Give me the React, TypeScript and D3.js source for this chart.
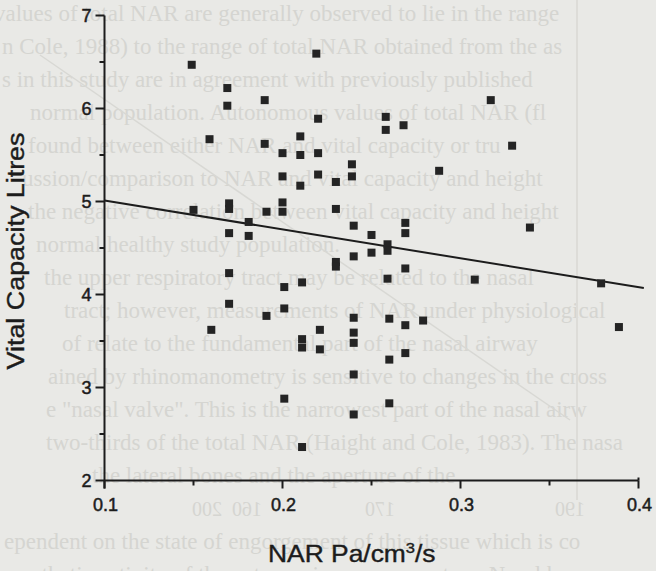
import React from 'react';
import * as d3 from 'd3';

// NAR (Pa/cm3/s) values of each subject
const nar = [
  0.149, 0.219, 0.169, 0.169, 0.190, 0.159, 0.190, 0.200, 0.210, 0.220,
  0.210, 0.220, 0.200, 0.210, 0.220, 0.150, 0.170, 0.170, 0.191, 0.200,
  0.200, 0.181, 0.170, 0.181, 0.258, 0.258, 0.268, 0.317, 0.329, 0.239,
  0.239, 0.230, 0.288, 0.230, 0.240, 0.250, 0.269, 0.269, 0.339, 0.259,
  0.259, 0.250, 0.240, 0.230, 0.230, 0.269, 0.259, 0.308, 0.379, 0.211,
  0.201, 0.170, 0.170, 0.201, 0.191, 0.160, 0.201, 0.240, 0.260, 0.269,
  0.279, 0.389, 0.221, 0.240, 0.240, 0.211, 0.211, 0.221, 0.260, 0.269,
  0.240, 0.260, 0.240, 0.211,
];
// Vital capacity (litres) of each subject
const vitalCapacity = [
  6.47, 6.59, 6.22, 6.03, 6.09, 5.67, 5.62, 5.52, 5.70, 5.89,
  5.50, 5.52, 5.27, 5.17, 5.29, 4.91, 4.98, 4.92, 4.89, 4.99,
  4.89, 4.78, 4.66, 4.63, 5.91, 5.77, 5.82, 6.09, 5.60, 5.40,
  5.27, 5.21, 5.33, 4.92, 4.74, 4.64, 4.77, 4.66, 4.72, 4.54,
  4.47, 4.45, 4.41, 4.35, 4.30, 4.28, 4.17, 4.16, 4.12, 4.13,
  4.08, 4.23, 3.90, 3.85, 3.77, 3.62, 2.88, 3.75, 3.74, 3.67,
  3.72, 3.65, 3.62, 3.59, 3.48, 3.52, 3.43, 3.41, 3.30, 3.37,
  3.14, 2.83, 2.71, 2.36,
];
// regression line end points
const fitNar = [0.1, 0.403];
const fitVc = [5.01, 4.07];

const xTicks = [0.1, 0.2, 0.3, 0.4];
const xMinorTicks = [0.15, 0.25, 0.35];
const yTicks = [2, 3, 4, 5, 6, 7];
const yMinorTicks = [2.5, 3.5, 4.5, 5.5, 6.5];

const xTitle = 'NAR Pa/cm';
const yTitle = 'Vital Capacity Litres';

// faint show-through text from the reverse of the scanned page
const bleedText = [
  'values of total NAR are generally observed to lie in the range',
  'n Cole, 1988) to the range of total NAR obtained from the as',
  's in this study are in agreement with previously published',
  'normal population. Autonomous values of total NAR (fl',
  'found between either NAR and vital capacity or tru',
  'ussion/comparison to NAR and vital capacity and height',
  'the negative correlation between vital capacity and height',
  'normal healthy study population.',
  'the upper respiratory tract may be related to the nasal',
  'tract; however, measurements of NAR under physiological',
  'of relate to the fundamental part of the nasal airway',
  'ained by rhinomanometry is sensitive to changes in the cross',
  'e "nasal valve". This is the narrowest part of the nasal airw',
  'two-thirds of the total NAR (Haight and Cole, 1983). The nasa',
  'the lateral bones and the aperture of the',
  '',
  'ependent on the state of engorgement of this tissue which is co',
  'pathetic activity of the autonomic nervous system. Nasal b',
];
const bleedX = [-6, 2, 2, 30, 28, 22, 28, 36, 44, 64, 62, 48, 46, 46, 92, 0, 4, 20];
// mirrored scale numbers showing through
const bleedNumbers = ['200', '160', '170', '190'];
const bleedNumberX = [207, 247, 380, 570];

export default function App() {
  const W = 656;
  const H = 571;
  const x = d3.scaleLinear().domain([0.1, 0.4]).range([104.5, 638.5]);
  const y = d3.scaleLinear().domain([2, 7]).range([480.5, 15.5]);
  const ink = '#1c1c1c';
  const line = d3.line<number>()
    .x((d, i) => x(fitNar[i]))
    .y((d) => y(d));
  const m = 8;

  return (
    <svg
      width={W}
      height={H}
      style={{ position: 'fixed', left: 0, top: 0 }}
      fontFamily="'Liberation Sans', Arial, Helvetica, sans-serif"
    >
      <rect x={0} y={0} width={W} height={H} fill="#e9e9e6" />
      <g fill="#d5d5d1" fontFamily="'Liberation Serif', 'Times New Roman', serif" fontSize={23}>
        {bleedText.map((t, i) => (t ? (
          <text key={i} x={bleedX[i]} y={21 + i * 33}>{t}</text>
        ) : null))}
        {bleedNumbers.map((t, i) => (
          <text
            key={'n' + i}
            transform={`translate(${bleedNumberX[i]},516) scale(-1,1)`}
            textAnchor="middle"
            fontSize={20}
          >
            {t}
          </text>
        ))}
      </g>
      <line x1={40} y1={55} x2={570} y2={420} stroke="#d8d8d4" strokeWidth={1.5} />
      <line x1={577} y1={0} x2={577} y2={500} stroke="#dddcd8" strokeWidth={2} />

      {/* axes */}
      <g stroke={ink} strokeWidth={2} fill="none">
        <line x1={x(0.1)} y1={y(7)} x2={x(0.1)} y2={y(2) + 8} />
        <line x1={x(0.1)} y1={y(2)} x2={x(0.4)} y2={y(2)} />
        {yTicks.map((t) => (
          <line key={'yt' + t} x1={x(0.1) - 9} y1={y(t)} x2={x(0.1)} y2={y(t)} />
        ))}
        {yMinorTicks.map((t) => (
          <line key={'ym' + t} x1={x(0.1) - 5} y1={y(t)} x2={x(0.1)} y2={y(t)} />
        ))}
        {xTicks.map((t) => (
          <line key={'xt' + t} x1={x(t)} y1={y(2)} x2={x(t)} y2={y(2) + 8} />
        ))}
        {xMinorTicks.map((t) => (
          <line key={'xm' + t} x1={x(t)} y1={y(2)} x2={x(t)} y2={y(2) + 5} />
        ))}
        <line x1={x(0.4)} y1={y(2) - 3} x2={x(0.4)} y2={y(2)} />
      </g>

      {/* tick labels */}
      <g fill={ink} stroke={ink} strokeWidth={0.5} fontSize={18}>
        {yTicks.map((t) => (
          <text key={'yl' + t} x={x(0.1) - 13} y={y(t)} dy="0.35em" textAnchor="end">
            {t}
          </text>
        ))}
        {xTicks.map((t) => (
          <text key={'xl' + t} x={x(t) + 1} y={511} textAnchor="middle">
            {d3.format('.1f')(t)}
          </text>
        ))}
      </g>

      {/* regression line */}
      <path d={line(fitVc) || ''} stroke={ink} strokeWidth={2} fill="none" />

      {/* points */}
      <g fill="#242424">
        {nar.map((v, i) => (
          <rect key={i} x={x(v) - m / 2} y={y(vitalCapacity[i]) - m / 2} width={m} height={m} />
        ))}
      </g>

      {/* titles */}
      <text
        transform={`translate(268,562) scale(1.1,1)`}
        fontSize={24}
        fill={ink}
        stroke={ink}
        strokeWidth={0.4}
      >
        {xTitle}
        <tspan fontSize={15} dy={-9}>3</tspan>
        <tspan dy={9}>/s</tspan>
      </text>
      <text
        transform={`translate(24,251) rotate(-90) scale(1.12,1)`}
        fontSize={24}
        fill={ink}
        stroke={ink}
        strokeWidth={0.4}
        textAnchor="middle"
      >
        {yTitle}
      </text>
    </svg>
  );
}
